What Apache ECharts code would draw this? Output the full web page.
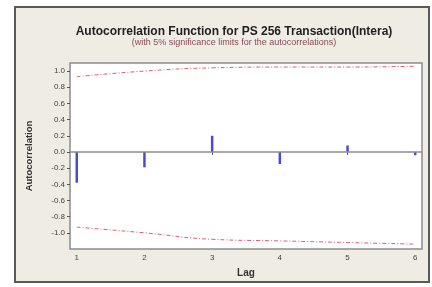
<!DOCTYPE html>
<html><head><meta charset="utf-8">
<script src="https://cdn.jsdelivr.net/npm/echarts@6/dist/echarts.min.js"></script>
<style>html,body{margin:0;padding:0;background:#fff}#c{width:432px;height:287px}</style>
</head><body><div id="c"></div>
<script>
const lags = [1, 2, 3, 4, 5, 6];
const acf = [-0.38, -0.19, 0.20, -0.15, 0.08, -0.04];
const upperLimit = [0.93, 1.00, 1.04, 1.05, 1.05, 1.06];
const lowerLimit = [-0.93, -1.00, -1.08, -1.10, -1.12, -1.14];
const yTicks = [-1.0, -0.8, -0.6, -0.4, -0.2, 0.0, 0.2, 0.4, 0.6, 0.8, 1.0];
const titleText = 'Autocorrelation Function for PS 256 Transaction(Intera)';
const subText = '(with 5% significance limits for the autocorrelations)';

const chart = echarts.init(document.getElementById('c'), null, {renderer: 'canvas'});
const font = 'Liberation Sans, Arial, sans-serif';
chart.setOption({
  animation: false,
  backgroundColor: '#ffffff',
  graphic: [{
    type: 'rect', z: -10, silent: true,
    shape: {x: 15, y: 7, width: 414, height: 275},
    style: {fill: '#efece3', stroke: '#5a5a5a', lineWidth: 2}
  }],
  title: {
    text: titleText, subtext: subText, left: 229, textAlign: 'center', top: 21, itemGap: 0,
    textStyle: {fontFamily: font, fontSize: 12, fontWeight: 'bold', color: '#222'},
    subtextStyle: {fontFamily: font, fontSize: 9, color: '#8a4a5a'}
  },
  grid: {left: 70, right: 10, top: 63, bottom: 38, show: true, backgroundColor: '#ffffff', borderColor: '#8c8c8c', borderWidth: 1.5},
  xAxis: {
    type: 'value', min: 0.9, max: 6.1, name: 'Lag', nameLocation: 'middle', nameGap: 19,
    nameTextStyle: {fontFamily: font, fontSize: 10, fontWeight: 'bold', color: '#333'},
    axisLine: {show: false}, splitLine: {show: false},
    axisTick: {show: true, customValues: lags, length: 3, lineStyle: {color: '#555'}},
    axisLabel: {customValues: lags, fontFamily: font, fontSize: 8, color: '#444', margin: 5}
  },
  yAxis: {
    type: 'value', min: -1.2, max: 1.1, name: 'Autocorrelation', nameLocation: 'middle', nameGap: 36,
    nameTextStyle: {fontFamily: font, fontSize: 9.5, fontWeight: 'bold', color: '#333'},
    axisLine: {show: false}, splitLine: {show: false},
    axisTick: {show: true, customValues: yTicks, length: 3, lineStyle: {color: '#555'}},
    axisLabel: {customValues: yTicks, fontFamily: font, fontSize: 8, color: '#444', margin: 5,
      formatter: v => v.toFixed(1)}
  },
  series: [
    {type: 'bar', data: lags.map((l, i) => [l, acf[i]]), barWidth: 2.5,
      itemStyle: {color: '#4a4ad8'},
      markLine: {silent: true, symbol: 'none', label: {show: false},
        lineStyle: {color: '#8c8c8c', type: 'solid', width: 1.5}, data: [{yAxis: 0}]}},
    {type: 'line', data: lags.map((l, i) => [l, upperLimit[i]]), symbol: 'none', smooth: true,
      lineStyle: {color: '#d8607a', type: [4, 2, 1, 2], width: 1}},
    {type: 'line', data: lags.map((l, i) => [l, lowerLimit[i]]), symbol: 'none', smooth: true,
      lineStyle: {color: '#d8607a', type: [4, 2, 1, 2], width: 1}}
  ]
});
</script></body></html>
